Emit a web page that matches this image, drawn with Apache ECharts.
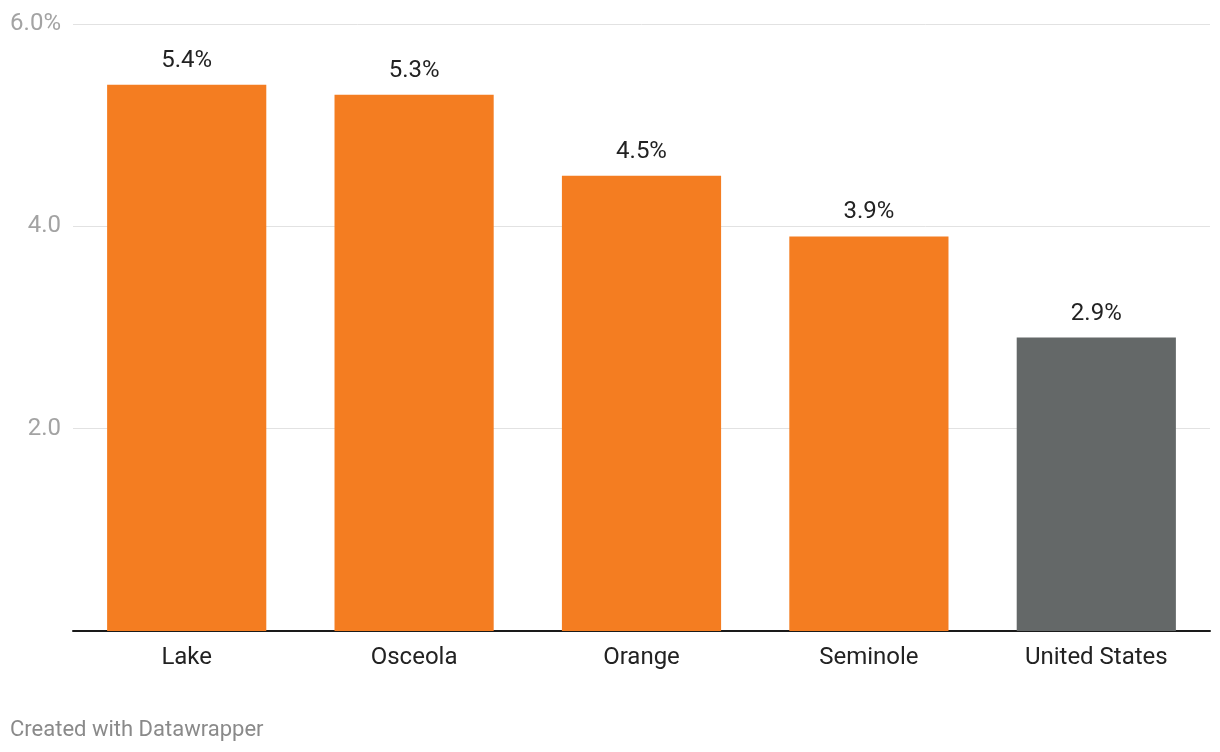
<!DOCTYPE html>
<html>
<head>
<meta charset="utf-8">
<script src="https://cdn.jsdelivr.net/npm/echarts@6/dist/echarts.min.js"></script>
<style>
html,body{margin:0;padding:0;background:#fff;}
#chart{width:1220px;height:752px;}
</style>
</head>
<body>
<div id="chart"></div>
<script>
const categories = ["Lake", "Osceola", "Orange", "Seminole", "United States"];
const values = [5.4, 5.3, 4.5, 3.9, 2.9];
const barColors = ["#f47d21", "#f47d21", "#f47d21", "#f47d21", "#646868"];
const yTicks = {6: "6.0%", 4: "4.0", 2: "2.0", 0: ""};

const chart = echarts.init(document.getElementById('chart'), null, {renderer: 'canvas'});
chart.setOption({
  animation: false,
  grid: {left: 73, right: 10, top: 24, bottom: 121, containLabel: false},
  xAxis: {
    type: 'category',
    data: categories,
    axisLine: {show: true, lineStyle: {color: '#1a1a1a', width: 2}},
    axisTick: {show: false},
    axisLabel: {fontFamily: 'Roboto', fontSize: 24, color: '#222', margin: 15}
  },
  yAxis: {
    type: 'value',
    min: 0, max: 6, interval: 2,
    axisLine: {show: false},
    axisTick: {show: false},
    splitLine: {lineStyle: {color: '#e2e2e2', width: 1}},
    axisLabel: {
      fontFamily: 'Roboto', fontSize: 24, color: '#a3a3a3', margin: 12,
      lineHeight: 24, padding: [6, 0, 0, 0],
      formatter: v => yTicks[v] !== undefined ? yTicks[v] : ''
    }
  },
  series: [{
    type: 'bar',
    barWidth: '70%',
    data: values.map((v, i) => ({value: v, itemStyle: {color: barColors[i]}})),
    label: {
      show: true, position: 'top', distance: 12,
      fontFamily: 'Roboto', fontSize: 24, color: '#222',
      formatter: p => p.value.toFixed(1) + '%'
    }
  }],
  graphic: [{
    type: 'text', left: 10, top: 719,
    style: {text: 'Created with Datawrapper', fontFamily: 'Roboto', fontSize: 22, fill: '#8a8a8a'}
  }]
});
</script>
</body>
</html>
